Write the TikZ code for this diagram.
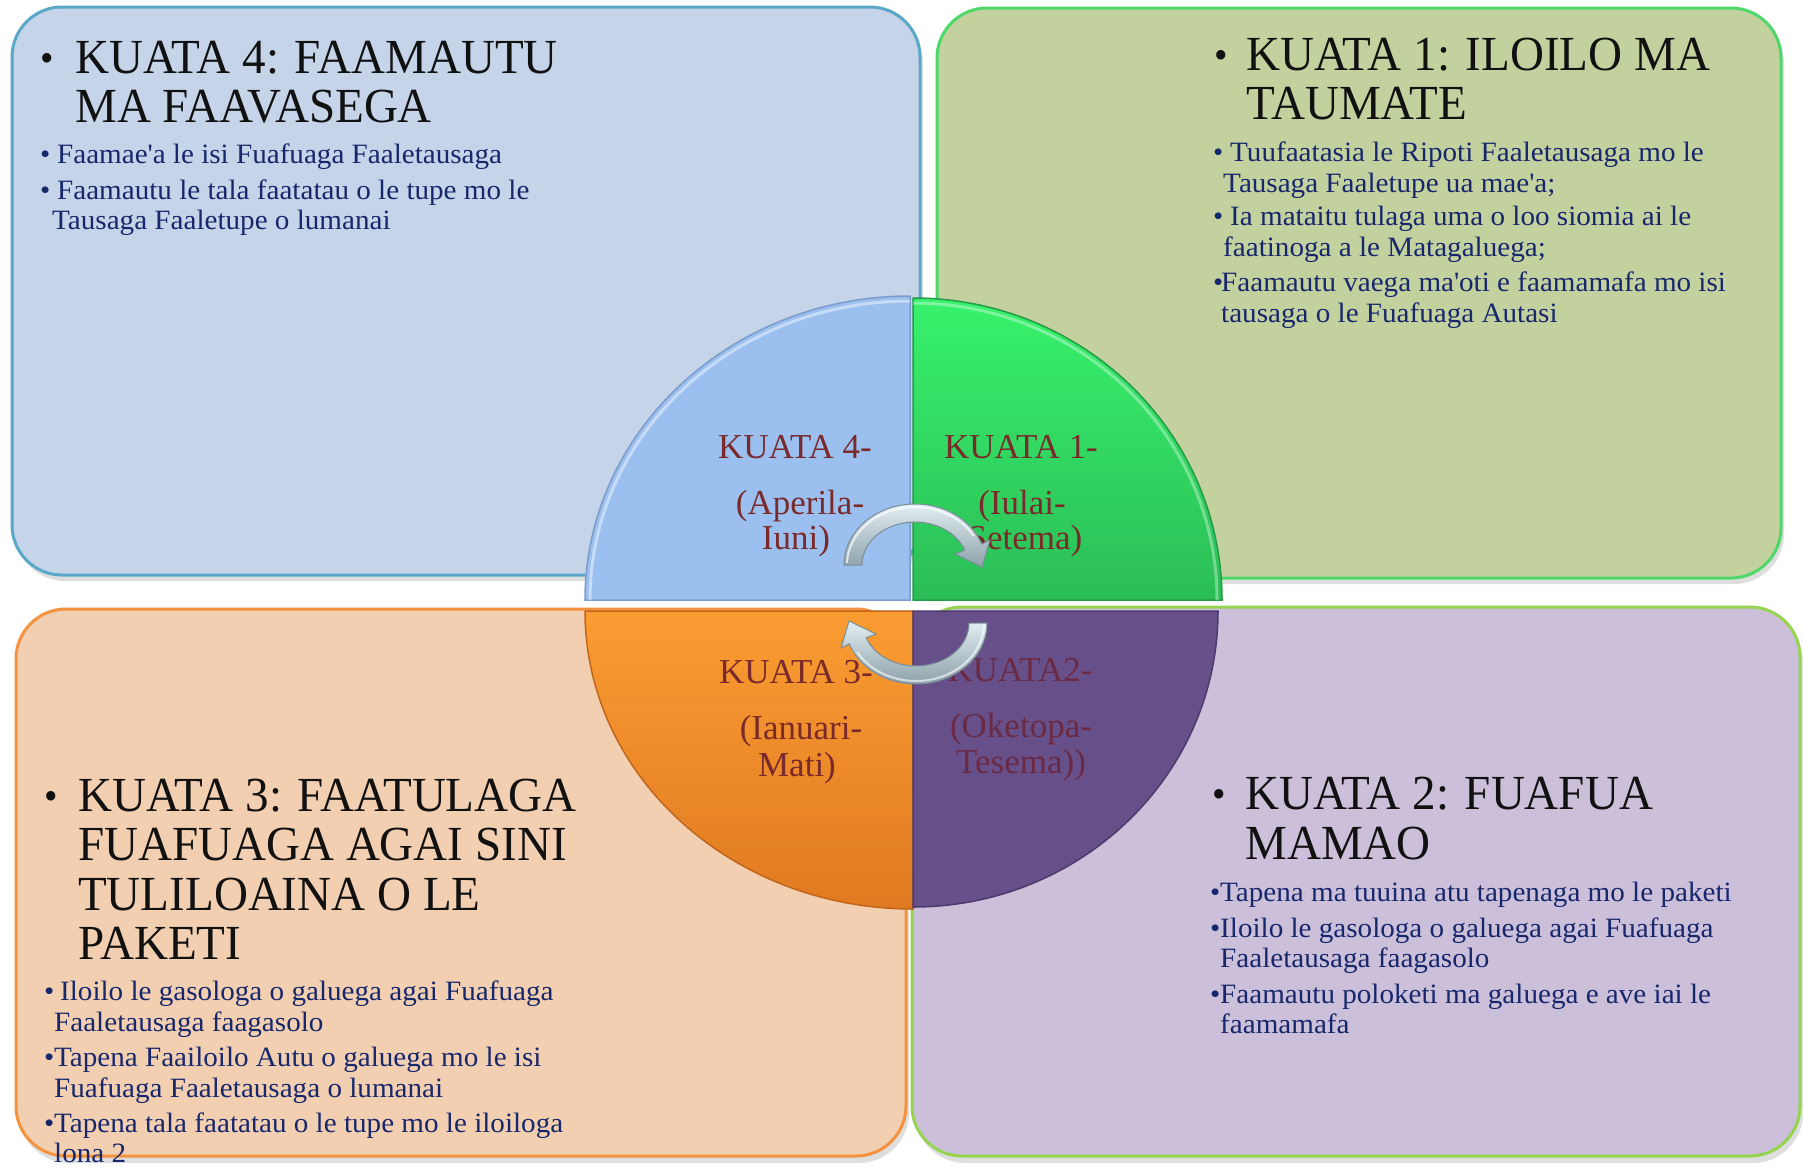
\documentclass[tikz,border=0pt]{standalone}
\usepackage{fontspec}
\setmainfont{Liberation Serif}
\newfontfamily\titlefont[FakeStretch=0.96]{Liberation Serif}
\newfontfamily\bodyfont[FakeStretch=1.04]{Liberation Serif}
\definecolor{tlfill}{HTML}{C5D4E9}
\definecolor{tledge}{HTML}{5AA8C8}
\definecolor{trfill}{HTML}{C3D19F}
\definecolor{tredge}{HTML}{4FD86A}
\definecolor{blfill}{HTML}{F2CFB1}
\definecolor{bledge}{HTML}{F4923F}
\definecolor{brfill}{HTML}{CBBFD9}
\definecolor{bredge}{HTML}{96D450}
\definecolor{qtl}{HTML}{9BBFEF}
\definecolor{qtledge}{HTML}{7C9CCB}
\definecolor{qtrtop}{HTML}{38F26C}
\definecolor{qtrbot}{HTML}{2BBD57}
\definecolor{qtredge}{HTML}{259A48}
\definecolor{qbltop}{HTML}{FA9C32}
\definecolor{qblbot}{HTML}{E07A22}
\definecolor{qbledge}{HTML}{C0651A}
\definecolor{qbr}{HTML}{67508A}
\definecolor{qbredge}{HTML}{4E3A6C}
\definecolor{qtext}{HTML}{7A2A2A}
\definecolor{qtextdark}{HTML}{6A2A44}
\definecolor{titlecol}{HTML}{111111}
\definecolor{bodycol}{HTML}{17276C}
\definecolor{arrlight}{HTML}{E2EEF2}
\definecolor{arrdark}{HTML}{8DA2AB}
\definecolor{arredge}{HTML}{7A8E97}
\newcommand{\tbul}[1]{\makebox[#1][l]{\fontsize{40}{40}\selectfont\raisebox{2pt}{•}}}
\newcommand{\bbul}[1]{\makebox[#1][l]{•}}
\begin{document}
\begin{tikzpicture}[x=1pt,y=-1pt,
  ttl/.style={anchor=base west, inner sep=0pt, font=\titlefont\fontsize{49}{49}\selectfont, text=titlecol},
  bdy/.style={anchor=base west, inner sep=0pt, font=\bodyfont\fontsize{28}{28}\selectfont, text=bodycol},
  qtxt/.style={anchor=base, inner sep=0pt, font=\fontsize{35}{35}\selectfont, text=qtext},
  boxshadow/.style={fill=black, opacity=0.13, rounded corners=50pt},
  panel/.style={line width=3pt, rounded corners=50pt},
  quad/.style={line width=1.5pt},
  bigarrow/.style={top color=arrlight, bottom color=arrdark, draw=arredge, line width=1pt}
]
\fill[white] (0,0) rectangle (1803,1170);
\useasboundingbox (0,0) rectangle (1803,1170);

% shadows of the four panels
\fill[boxshadow] (15,13) rectangle (923,581);
\fill[boxshadow] (940,14) rectangle (1784,584);
\fill[boxshadow] (19,615) rectangle (909,1163);
\fill[boxshadow] (915,613) rectangle (1803,1163);

% panels
\draw[panel, fill=tlfill, draw=tledge] (12,7) rectangle (920,575);
\draw[panel, fill=trfill, draw=tredge] (937,8) rectangle (1781,578);
\draw[panel, fill=blfill, draw=bledge] (16,609) rectangle (906,1156);
\draw[panel, fill=brfill, draw=bredge] (912,607) rectangle (1800,1156);

% quadrants of the circle
\draw[quad, fill=qtl, draw=qtledge] (910,600) -- (585,600) arc[start angle=180, end angle=270, x radius=325, y radius=304] -- cycle;
\draw[quad, top color=qtrtop, bottom color=qtrbot, draw=qtredge] (913,600) -- (913,298) arc[start angle=270, end angle=360, x radius=309, y radius=302] -- cycle;
\draw[quad, top color=qbltop, bottom color=qblbot, draw=qbledge] (913,611) -- (585,611) arc[start angle=180, end angle=90, x radius=328, y radius=298] -- cycle;
\draw[quad, fill=qbr, draw=qbredge] (913,611) -- (1218,611) arc[start angle=0, end angle=90, x radius=305, y radius=296] -- cycle;
% highlights on the arcs
\draw[white, opacity=0.45, line width=3pt] (590,600) arc[start angle=180, end angle=270, x radius=320, y radius=299];
\draw[white, opacity=0.35, line width=3pt] (913,303) arc[start angle=270, end angle=360, x radius=304, y radius=297];

% quadrant texts
\node[qtxt] (q4a) at (795,458) {KUATA 4-};
\node[qtxt] (q4b) at (800,514) {(Aperila-};
\node[qtxt] (q4c) at (796,549) {Iuni)};
\node[qtxt] (q1a) at (1021,458) {KUATA 1-};
\node[qtxt] (q1b) at (1022,514) {(Iulai-};
\node[qtxt] (q1c) at (1025,549) {Setema)};
\node[qtxt] (q3a) at (796,683) {KUATA 3-};
\node[qtxt] (q3b) at (801,739) {(Ianuari-};
\node[qtxt] (q3c) at (797,776) {Mati)};
\node[qtxt, text=qtextdark] (q2a) at (1020,681) {KUATA2-};
\node[qtxt, text=qtextdark] (q2b) at (1021,737) {(Oketopa-};
\node[qtxt, text=qtextdark] (q2c) at (1021,773) {Tesema))};

% circular arrows
\begin{scope}[shift={(915,565)}]
\draw[bigarrow] (-71,0) arc[start angle=180, end angle=340, x radius=71, y radius=61]
  -- (75,-25) -- (67,2) -- (40,-11) -- (49.8,-14.7)
  arc[start angle=340, end angle=180, x radius=53, y radius=43] -- cycle;
\draw[white, opacity=0.7, line width=2pt] (-68,-2) arc[start angle=182, end angle=330, x radius=68, y radius=58];
\end{scope}
\begin{scope}[shift={(916,623)}, rotate=180]
\draw[bigarrow] (-71,0) arc[start angle=180, end angle=340, x radius=71, y radius=61]
  -- (75,-25) -- (67,2) -- (40,-11) -- (49.8,-14.7)
  arc[start angle=340, end angle=180, x radius=53, y radius=43] -- cycle;
\draw[white, opacity=0.6, line width=2pt] (-68,-2) arc[start angle=182, end angle=330, x radius=68, y radius=58];
\end{scope}

% top-left panel
\node[ttl] (t4a) at (40,73) {\tbul{35pt}KUATA 4: FAAMAUTU};
\node[ttl] (t4b) at (75,122) {MA FAAVASEGA};
\node[bdy] (t4c) at (40,163) {\bbul{17pt}Faamae\textquotesingle a le isi Fuafuaga Faaletausaga};
\node[bdy] (t4d) at (40,199) {\bbul{17pt}Faamautu le tala faatatau o le tupe mo le};
\node[bdy] (t4e) at (52,229) {Tausaga Faaletupe o lumanai};

% top-right panel
\node[ttl] (t1a) at (1214,70) {\tbul{32pt}KUATA 1: ILOILO MA};
\node[ttl] (t1b) at (1246,119) {TAUMATE};
\node[bdy] (t1c) at (1213,161) {\bbul{17pt}Tuufaatasia le Ripoti Faaletausaga mo le};
\node[bdy] (t1d) at (1223,192) {Tausaga Faaletupe ua mae\textquotesingle a;};
\node[bdy] (t1e) at (1213,225) {\bbul{17pt}Ia mataitu tulaga uma o loo siomia ai le};
\node[bdy] (t1f) at (1223,256) {faatinoga a le Matagaluega;};
\node[bdy] (t1g) at (1213,291) {\bbul{8pt}Faamautu vaega ma\textquotesingle oti e faamamafa mo isi};
\node[bdy] (t1h) at (1221,322) {tausaga o le Fuafuaga Autasi};

% bottom-left panel
\node[ttl] (t3a) at (44,811) {\tbul{34pt}KUATA 3: FAATULAGA};
\node[ttl] (t3b) at (78,860) {FUAFUAGA AGAI SINI};
\node[ttl] (t3c) at (78,910) {TULILOAINA O LE};
\node[ttl] (t3d) at (78,959) {PAKETI};
\node[bdy] (t3e) at (44,1000) {\bbul{16pt}Iloilo le gasologa o galuega agai Fuafuaga};
\node[bdy] (t3f) at (54,1031) {Faaletausaga faagasolo};
\node[bdy] (t3g) at (44,1066) {\bbul{10pt}Tapena Faailoilo Autu o galuega mo le isi};
\node[bdy] (t3h) at (54,1097) {Fuafuaga Faaletausaga o lumanai};
\node[bdy] (t3i) at (44,1132) {\bbul{10pt}Tapena tala faatatau o le tupe mo le iloiloga};
\node[bdy] (t3j) at (54,1162) {lona 2};

% bottom-right panel
\node[ttl] (t2a) at (1212,809) {\tbul{33pt}KUATA 2: FUAFUA};
\node[ttl] (t2b) at (1245,859) {MAMAO};
\node[bdy] (t2c) at (1210,901) {\bbul{10pt}Tapena ma tuuina atu tapenaga mo le paketi};
\node[bdy] (t2d) at (1210,937) {\bbul{10pt}Iloilo le gasologa o galuega agai Fuafuaga};
\node[bdy] (t2e) at (1220,967) {Faaletausaga faagasolo};
\node[bdy] (t2f) at (1210,1003) {\bbul{10pt}Faamautu poloketi ma galuega e ave iai le};
\node[bdy] (t2g) at (1220,1033) {faamamafa};
\end{tikzpicture}
\end{document}
